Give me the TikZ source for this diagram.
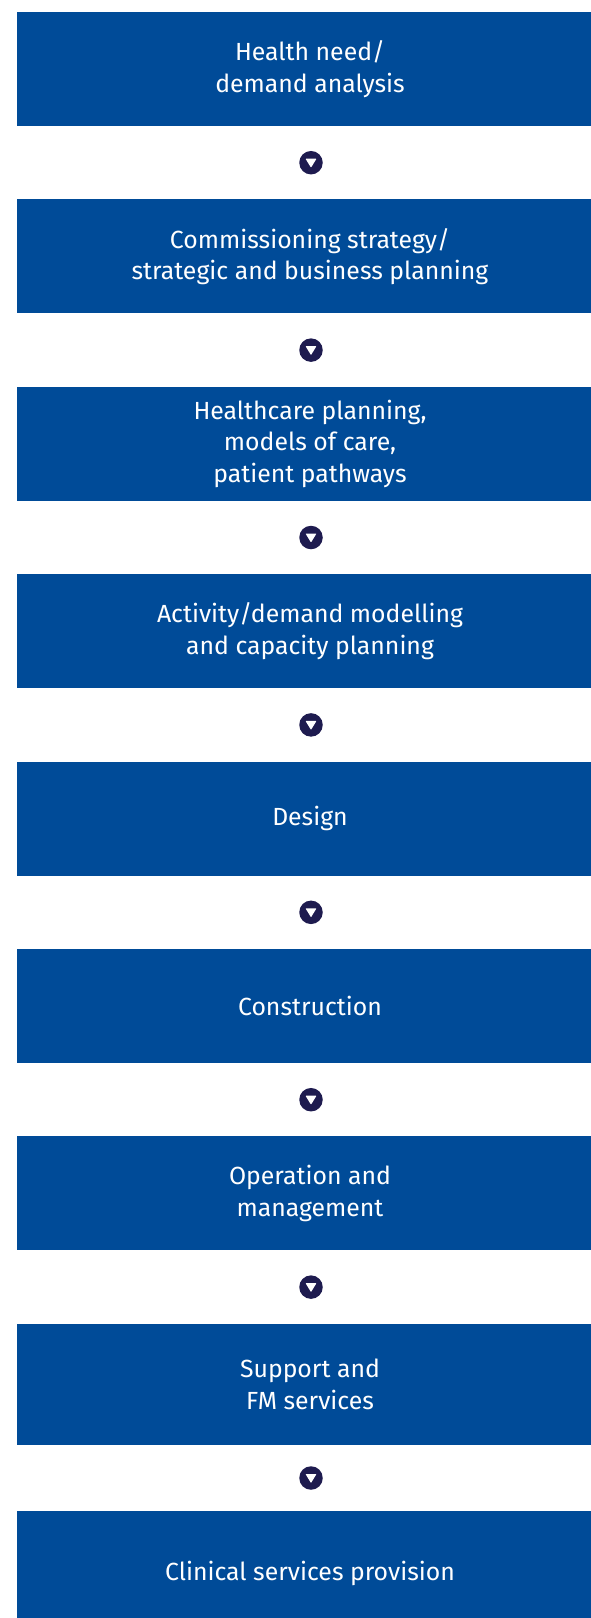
\documentclass[tikz,border=0pt]{standalone}
\usepackage{fontspec}
\setmainfont{Fira Sans}
\usetikzlibrary{positioning, calc}
\definecolor{stageblue}{RGB}{0,75,152}
\definecolor{markernavy}{RGB}{30,27,79}
\tikzstyle{stage} = [rectangle, fill=stageblue, text=white, align=center, minimum width=586pt, minimum height=114pt, inner sep=0pt, font=\fontsize{24.8}{31.5}\selectfont]
\tikzstyle{marker} = [circle, fill=markernavy, minimum size=23.5pt, inner sep=0pt, xshift=1pt, path picture={\fill[white, rounded corners=0.6pt] ($(path picture bounding box.center)+(-5.5pt,4pt)$) -- ++(11pt,0pt) -- ++(-5.5pt,-9pt) -- cycle;}]

\begin{document}
\begin{tikzpicture}[x=1pt,y=1pt]
    \useasboundingbox (0,0) rectangle (591,-1618);
    \clip (0,0) rectangle (591,-1618);
    \node [stage] (need) at (310,-69) {Health need/\\demand analysis};
    \node [stage, below=73pt of need] (strategy) {Commissioning strategy/\\strategic and business planning};
    \node [stage, below=73pt of strategy] (care) {Healthcare planning,\\models of care,\\patient pathways};
    \node [stage, below=73pt of care] (capacity) {Activity/demand modelling\\and capacity planning};
    \node [stage, below=73pt of capacity] (design) {Design};
    \node [stage, below=73pt of design] (build) {Construction};
    \node [stage, below=73pt of build] (operation) {Operation and\\management};
    \node [stage, below=73pt of operation, minimum height=121pt] (support) {Support and\\FM services};
    \node [stage, below=66pt of support, minimum height=124pt] (clinical) {Clinical services provision};
    \node [marker] (m1) at ($(need.south)!0.5!(strategy.north)$) {};
    \node [marker] (m2) at ($(strategy.south)!0.5!(care.north)$) {};
    \node [marker] (m3) at ($(care.south)!0.5!(capacity.north)$) {};
    \node [marker] (m4) at ($(capacity.south)!0.5!(design.north)$) {};
    \node [marker] (m5) at ($(design.south)!0.5!(build.north)$) {};
    \node [marker] (m6) at ($(build.south)!0.5!(operation.north)$) {};
    \node [marker] (m7) at ($(operation.south)!0.5!(support.north)$) {};
    \node [marker] (m8) at ($(support.south)!0.5!(clinical.north)$) {};
\end{tikzpicture}
\end{document}
